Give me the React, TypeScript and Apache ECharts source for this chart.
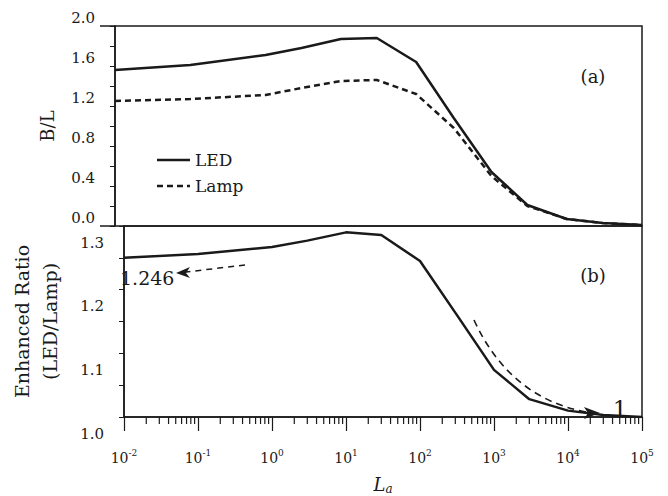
import React, { useEffect, useRef } from "react";
import * as echarts from "echarts";

const La = [0.01, 0.1, 1, 3, 10, 30, 100, 316, 1000, 3000, 10000, 30000, 100000];
const ledBL = [1.56, 1.61, 1.71, 1.78, 1.87, 1.88, 1.64, 1.08, 0.54, 0.21, 0.07, 0.03, 0.01];
const lampBL = [1.25, 1.27, 1.31, 1.38, 1.45, 1.46, 1.32, 0.98, 0.5, 0.2, 0.07, 0.03, 0.01];
const ratio = [1.25, 1.256, 1.267, 1.277, 1.29, 1.286, 1.245, 1.16, 1.074, 1.028, 1.01, 1.003, 1.0];

const legendNames = ["LED", "Lamp"];

const decades = [-2, -1, 0, 1, 2, 3, 4];
const minorMultipliers = [2, 3, 4, 5, 6, 7, 8, 9];
const minorTicks: number[] = [];
decades.forEach((d) => minorMultipliers.forEach((m) => minorTicks.push(m * Math.pow(10, d))));

const FONT = '"DejaVu Serif", "Liberation Serif", serif';
const INK = "#1a1a1a";

export default function App() {
  const ref = useRef<HTMLDivElement>(null);
  useEffect(() => {
    if (!ref.current) return;
    const chart = echarts.init(ref.current, null, { renderer: "svg" });
    const xBase = {
      type: "log" as const,
      logBase: 10,
      min: 0.01,
      max: 100000,
      interval: 1,
    };
    const txt = (text: string, x: number, y: number, font: string, align = "center") => ({
      type: "text",
      style: { text, x, y, font, fill: INK, align, verticalAlign: "middle", textAlign: align, textVerticalAlign: "middle" },
    });
    chart.setOption({
      animation: false,
      backgroundColor: "#fff",
      textStyle: { fontFamily: FONT, color: INK },
      grid: [
        { left: 115, right: 26, top: 26, height: 200, show: true, borderColor: INK, borderWidth: 1.5, backgroundColor: "transparent" },
        { left: 115, right: 26, top: 226, height: 200, show: true, borderColor: INK, borderWidth: 1.5, backgroundColor: "transparent" },
      ],
      xAxis: [
        {
          ...xBase,
          gridIndex: 0,
          axisLine: { show: false },
          axisTick: { show: false },
          axisLabel: { show: false },
          splitLine: { show: false },
        },
        {
          ...xBase,
          gridIndex: 1,
          axisLine: { show: true, lineStyle: { color: INK, width: 1.5 } },
          axisTick: { show: true, inside: false, length: 14, lineStyle: { color: INK, width: 1.2 } },
          splitLine: { show: false },
          axisLabel: {
            margin: 31,
            formatter: (v: number) => `{b|10}{s|${Math.round(Math.log10(v))}}`,
            rich: {
              b: { fontFamily: FONT, fontSize: 14, color: INK, lineHeight: 20 },
              s: { fontFamily: FONT, fontSize: 9, color: INK, verticalAlign: "top", lineHeight: 12 },
            },
          },
          name: "{i|L}{sub|a}",
          nameLocation: "middle",
          nameGap: 56,
          nameTextStyle: {
            rich: {
              i: { fontFamily: FONT, fontStyle: "italic", fontSize: 18, color: INK },
              sub: { fontFamily: FONT, fontStyle: "italic", fontSize: 12, color: INK, padding: [10, 0, 0, 0] },
            },
          },
        },
      ],
      yAxis: [
        {
          type: "value",
          gridIndex: 0,
          min: 0,
          max: 2,
          interval: 0.4,
          axisLine: { show: true, lineStyle: { color: INK, width: 1.5 } },
          axisTick: { show: true, inside: false, length: 5, lineStyle: { color: INK } },
          minorTick: { show: true, splitNumber: 2, length: 5, lineStyle: { color: INK } },
          splitLine: { show: false },
          axisLabel: {
            margin: 20,
            fontSize: 15,
            color: INK,
            verticalAlign: "bottom",
            padding: [0, 0, 1, 0],
            formatter: (v: number) => v.toFixed(1),
          },
          name: "B/L",
          nameLocation: "middle",
          nameRotate: 90,
          nameGap: 59,
          nameTextStyle: { fontFamily: FONT, fontSize: 18, color: INK },
        },
        {
          type: "value",
          gridIndex: 1,
          min: 1.0,
          max: 1.3,
          interval: 0.1,
          axisLine: { show: true, lineStyle: { color: INK, width: 1.5 } },
          axisTick: { show: true, inside: false, length: 5, lineStyle: { color: INK } },
          minorTick: { show: true, splitNumber: 2, length: 5, lineStyle: { color: INK } },
          splitLine: { show: false },
          axisLabel: {
            margin: 20,
            fontSize: 15,
            color: INK,
            verticalAlign: "top",
            padding: [9, 0, 0, 0],
            formatter: (v: number) => v.toFixed(1),
          },
          name: "Enhanced Ratio\n(LED/Lamp)",
          nameLocation: "middle",
          nameRotate: 90,
          nameGap: 60,
          nameTextStyle: { fontFamily: FONT, fontSize: 19, color: INK, lineHeight: 28 },
        },
      ],
      series: [
        {
          name: legendNames[0],
          type: "line",
          xAxisIndex: 0,
          yAxisIndex: 0,
          data: La.map((x, i) => [x, ledBL[i]]),
          symbol: "none",
          lineStyle: { color: INK, width: 2.5, type: "solid" },
          itemStyle: { color: INK },
        },
        {
          name: legendNames[1],
          type: "line",
          xAxisIndex: 0,
          yAxisIndex: 0,
          data: La.map((x, i) => [x, lampBL[i]]),
          symbol: "none",
          lineStyle: { color: INK, width: 2.5, type: [6, 4] },
          itemStyle: { color: INK },
        },
        {
          name: "Ratio",
          type: "line",
          xAxisIndex: 1,
          yAxisIndex: 1,
          data: La.map((x, i) => [x, ratio[i]]),
          symbol: "none",
          lineStyle: { color: INK, width: 2.5 },
          itemStyle: { color: INK },
        },
        {
          name: "minorTicks",
          type: "custom",
          xAxisIndex: 1,
          yAxisIndex: 1,
          silent: true,
          clip: false,
          data: minorTicks.map((v) => [v, 1.0]),
          renderItem: (params: any, api: any) => {
            const p = api.coord([api.value(0), api.value(1)]);
            return {
              type: "line",
              shape: { x1: p[0], y1: p[1], x2: p[0], y2: p[1] + 7 },
              style: { stroke: INK, lineWidth: 1.2 },
            };
          },
        },
      ],
      graphic: [
        { type: "line", shape: { x1: 100, y1: 26, x2: 115, y2: 26 }, style: { stroke: INK, lineWidth: 1.5 } },
        { type: "line", shape: { x1: 100, y1: 226, x2: 115, y2: 226 }, style: { stroke: INK, lineWidth: 1.5 } },
        // legend
        { type: "line", shape: { x1: 157, y1: 160, x2: 190, y2: 160 }, style: { stroke: INK, lineWidth: 2.5 } },
        txt(legendNames[0], 195, 160, `17px ${FONT}`, "left"),
        { type: "line", shape: { x1: 157, y1: 186, x2: 190, y2: 186 }, style: { stroke: INK, lineWidth: 2.5, lineDash: [6, 4] } },
        txt(legendNames[1], 195, 186, `17px ${FONT}`, "left"),
        // panel labels
        txt("(a)", 593, 76, `18px ${FONT}`),
        txt("(b)", 593, 275, `18px ${FONT}`),
        // annotations
        txt("1.246", 120, 278, `19px ${FONT}`, "left"),
        { type: "line", shape: { x1: 245, y1: 265, x2: 186, y2: 272 }, style: { stroke: INK, lineWidth: 1.5, lineDash: [6, 5] } },
        { type: "polygon", shape: { points: [[176, 273], [190, 267], [186, 273], [190, 278]] }, style: { fill: INK } },
        { type: "bezierCurve", shape: { x1: 474, y1: 320, cpx1: 496, cpy1: 368, cpx2: 532, cpy2: 402, x2: 586, y2: 412 }, style: { stroke: INK, lineWidth: 1.6, lineDash: [7, 5], fill: "none" } },
        { type: "polygon", shape: { points: [[600, 413], [584, 407], [588, 413], [584, 419]] }, style: { fill: INK } },
        txt("1", 620, 409, `23px ${FONT}`),
      ],
    });
    return () => chart.dispose();
  }, []);
  return <div ref={ref} style={{ position: "fixed", left: 0, top: 0, width: 668, height: 496 }} />;
}
